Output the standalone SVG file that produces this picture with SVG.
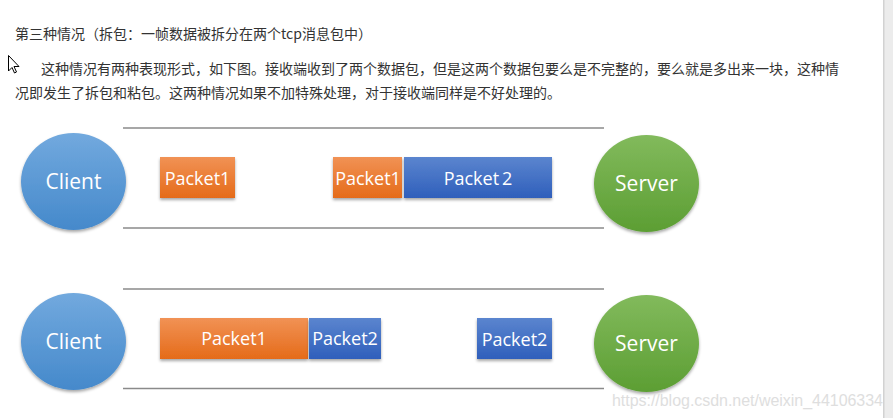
<svg xmlns="http://www.w3.org/2000/svg" width="893" height="418" viewBox="0 0 893 418">
<defs>
<style>
.cn{font-family:"Noto Sans CJK SC","Noto Sans",sans-serif;font-size:14px;fill:#333}
.lbl{font-family:"Open Sans","Noto Sans",sans-serif;fill:#fff;text-anchor:middle}
.pk{font-size:18px}
.nd{font-size:21px}
.rail{stroke:#8a8a8a;stroke-width:1.3;fill:none}
</style>
<linearGradient id="gBlueC" x1="0" y1="0" x2="0" y2="1"><stop offset="0" stop-color="#72a9de"/><stop offset="1" stop-color="#4589cb"/></linearGradient>
<linearGradient id="gGreen" x1="0" y1="0" x2="0" y2="1"><stop offset="0" stop-color="#82ba5c"/><stop offset="1" stop-color="#5c9e33"/></linearGradient>
<linearGradient id="gOrange" x1="0" y1="0" x2="0" y2="1"><stop offset="0" stop-color="#f19255"/><stop offset="1" stop-color="#e56b19"/></linearGradient>
<linearGradient id="gBlueP" x1="0" y1="0" x2="0" y2="1"><stop offset="0" stop-color="#5b85cf"/><stop offset="1" stop-color="#2f5fbb"/></linearGradient>
<filter id="sh" x="-20%" y="-20%" width="140%" height="150%"><feDropShadow dx="0" dy="2" stdDeviation="1.5" flood-color="#000" flood-opacity="0.35"/></filter>
</defs>
<rect width="893" height="418" fill="#fff"/>
<rect x="883" y="0" width="10" height="418" fill="#ececec"/>
<rect x="883" y="0" width="1.5" height="418" fill="#d2d2d2"/>

<g id="text">
<text class="cn" x="15" y="39">第三种情况（拆包：一帧数据被拆分在两个tcp消息包中）</text>
<text class="cn" x="41" y="74" textLength="798">这种情况有两种表现形式，如下图。接收端收到了两个数据包，但是这两个数据包要么是不完整的，要么就是多出来一块，这种情</text>
<text class="cn" x="15" y="98">况即发生了拆包和粘包。这两种情况如果不加特殊处理，对于接收端同样是不好处理的。</text>
</g>
<path id="cursor" d="M8.5,55.5 L8.5,71 L12,67.5 L14.5,73 L16.5,72 L14,66.5 L19,66.5 Z" fill="#fff" stroke="#000" stroke-width="1" stroke-linejoin="round"/>

<g id="connectors">
<line class="rail" x1="123" y1="128" x2="604" y2="128"/>
<line class="rail" x1="123" y1="228" x2="604" y2="228"/>
<line class="rail" x1="123" y1="289" x2="604" y2="289"/>
<line class="rail" x1="123" y1="388.5" x2="604" y2="388.5"/>
</g>

<g id="client1"><ellipse cx="73.5" cy="181.5" rx="52.5" ry="48.5" fill="url(#gBlueC)" filter="url(#sh)"/><text class="lbl nd" x="73.5" y="189">Client</text></g>
<g id="p1a"><rect x="160" y="157" width="75" height="41" fill="url(#gOrange)" filter="url(#sh)"/><text class="lbl pk" x="197.5" y="185">Packet1</text></g>
<g id="p1b"><rect x="333" y="157" width="69" height="41" fill="url(#gOrange)" filter="url(#sh)"/><text class="lbl pk" x="368" y="185">Packet1</text></g>
<g id="p2a"><rect x="404" y="157" width="148" height="41" fill="url(#gBlueP)" filter="url(#sh)"/><text class="lbl pk" x="478" y="185">Packet<tspan dx="3">2</tspan></text></g>
<g id="server1"><ellipse cx="646.5" cy="183.5" rx="52.5" ry="48.5" fill="url(#gGreen)" filter="url(#sh)"/><text class="lbl nd" x="646.5" y="191">Server</text></g>

<g id="client2"><ellipse cx="73.5" cy="341.5" rx="52.5" ry="48.5" fill="url(#gBlueC)" filter="url(#sh)"/><text class="lbl nd" x="73.5" y="349">Client</text></g>
<g id="p1c"><rect x="160" y="318" width="148" height="41" fill="url(#gOrange)" filter="url(#sh)"/><text class="lbl pk" x="234" y="345">Packet1</text></g>
<g id="p2b"><rect x="309" y="318" width="72" height="41" fill="url(#gBlueP)" filter="url(#sh)"/><text class="lbl pk" x="345" y="345">Packet2</text></g>
<g id="p2c"><rect x="477" y="318" width="75" height="41" fill="url(#gBlueP)" filter="url(#sh)"/><text class="lbl pk" x="514.5" y="346">Packet2</text></g>
<g id="server2"><ellipse cx="646.5" cy="343.5" rx="52.5" ry="48.5" fill="url(#gGreen)" filter="url(#sh)"/><text class="lbl nd" x="646.5" y="351">Server</text></g>

<text id="watermark" x="612" y="406" textLength="271" font-family="Liberation Sans, Arial, sans-serif" font-size="16" fill="#dedede">https://blog.csdn.net/weixin_44106334</text>
</svg>
